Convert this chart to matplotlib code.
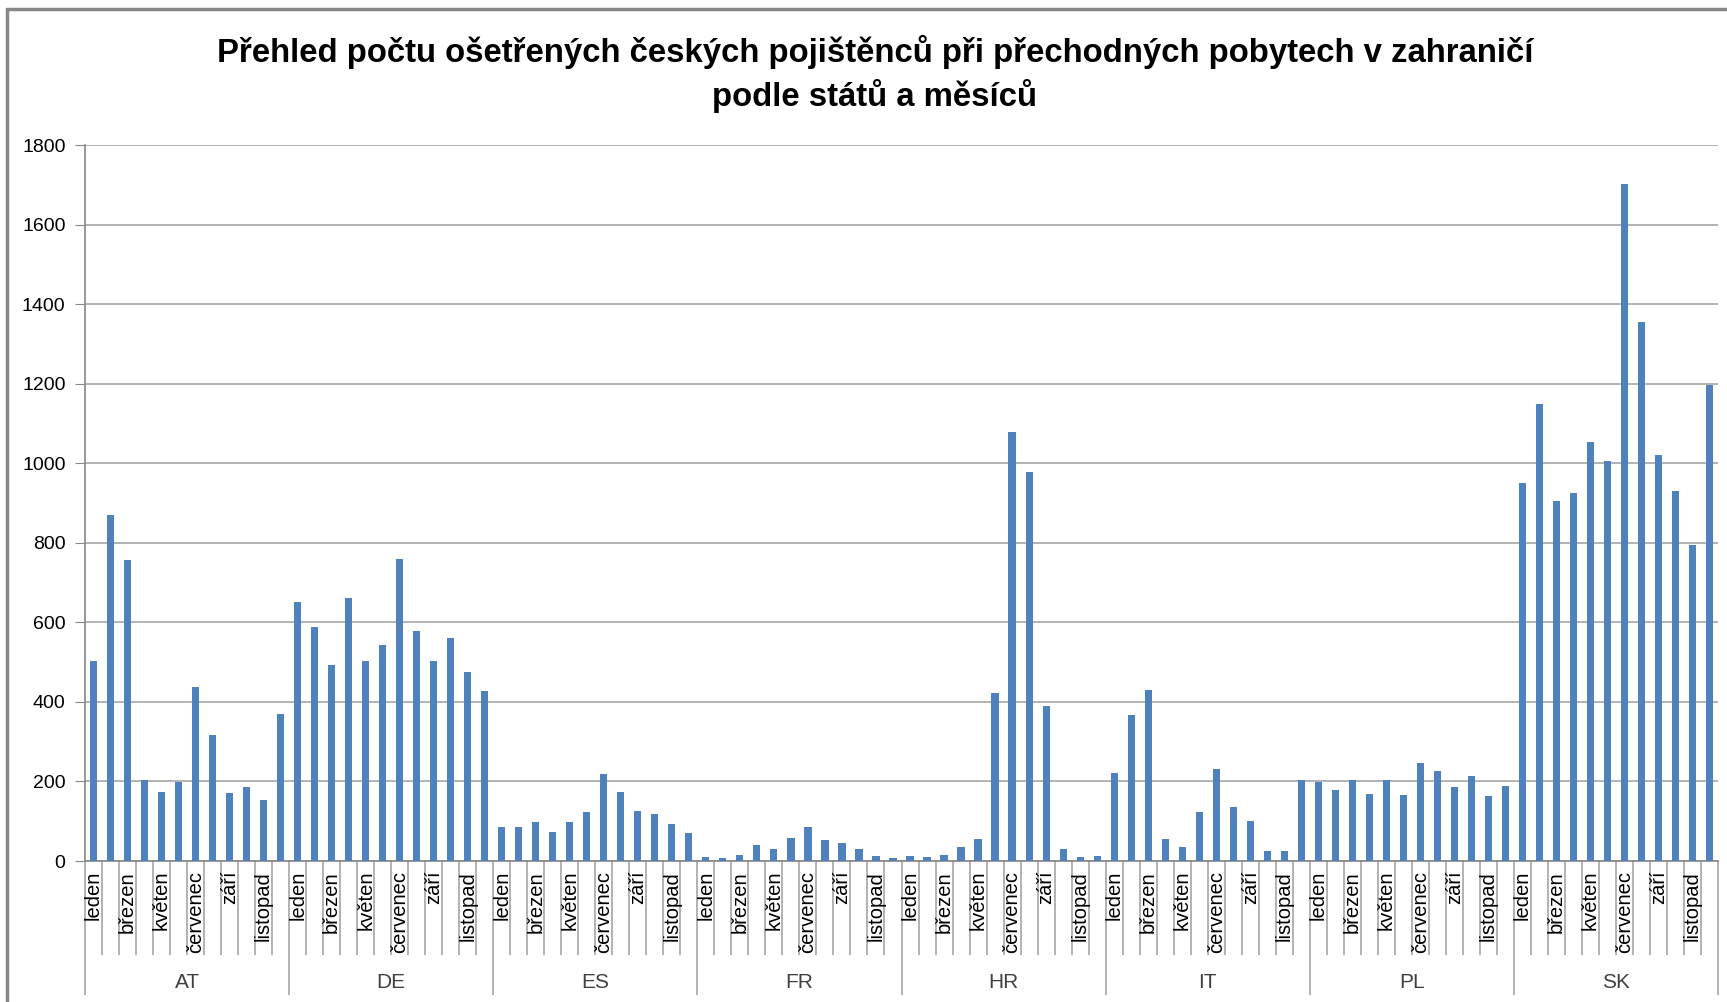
import matplotlib
matplotlib.use("Agg")
import matplotlib.pyplot as plt
import matplotlib.patches as patches
from matplotlib.transforms import blended_transform_factory
import numpy as np

# data
countries = ["AT", "DE", "ES", "FR", "HR", "IT", "PL", "SK"]
months = ["leden", "únor", "březen", "duben", "květen", "červen",
          "červenec", "srpen", "září", "říjen", "listopad", "prosinec"]

at_vals = [504, 869, 756, 203, 173, 198, 438, 318, 170, 185, 153, 369]
de_vals = [651, 588, 492, 661, 504, 542, 758, 578, 504, 561, 474, 428]
es_vals = [85, 85, 98, 73, 98, 124, 218, 173, 126, 119, 93, 70]
fr_vals = [10, 7, 15, 41, 31, 58, 85, 53, 44, 31, 12, 7]
hr_vals = [12, 10, 15, 34, 55, 423, 1079, 977, 389, 29, 10, 12]
it_vals = [222, 367, 431, 55, 34, 123, 232, 136, 100, 26, 26, 203]
pl_vals = [198, 178, 203, 168, 203, 165, 247, 227, 185, 213, 163, 188]
sk_vals = [951, 1150, 905, 926, 1053, 1006, 1702, 1354, 1021, 929, 795, 1196]

series = [at_vals, de_vals, es_vals, fr_vals, hr_vals, it_vals, pl_vals, sk_vals]
values = np.concatenate(series)

title = ("Přehled počtu ošetřených českých pojištěnců při přechodných pobytech v zahraničí\n"
         "podle států a měsíců")

W, H = 1727, 1002
plt.rcParams['font.family'] = ['Liberation Sans', 'DejaVu Sans']

fig = plt.figure(figsize=(W / 100, H / 100), dpi=100)
ax = fig.add_axes([85 / W, 1 - 861 / H, (1718 - 85) / W, (861 - 145) / H])

n_m = len(months)
x = np.arange(len(values))
ax.bar(x, values, width=0.42, color="#4F81BD", zorder=3)

ax.set_xlim(-0.5, len(values) - 0.5)
ax.set_ylim(0, 1800)
ax.set_yticks(np.arange(0, 1801, 200))
ax.yaxis.grid(True, color="#A6A6A6", lw=1.2, zorder=0)
ax.tick_params(axis='y', labelsize=14, length=7, color="#868686", pad=7)

for s in ["top", "right"]:
    ax.spines[s].set_visible(False)
for s in ["left", "bottom"]:
    ax.spines[s].set_color("#868686")
    ax.spines[s].set_linewidth(1.2)

# category axis: short ticks between months, long ones between countries
ax.set_xticks(np.arange(0, len(values) + 1, n_m) - 0.5)
ax.set_xticks(np.arange(0, len(values) + 1) - 0.5, minor=True)
ax.set_xticklabels([])
ax.tick_params(axis='x', which='major', length=134 * 0.72, color="#A6A6A6", width=1.2)
ax.tick_params(axis='x', which='minor', length=94 * 0.72, color="#A6A6A6", width=1.2)

trans = blended_transform_factory(ax.transData, fig.transFigure)
for ci, c in enumerate(countries):
    for mi, m in enumerate(months):
        if mi % 2 == 0:
            ax.text(ci * n_m + mi, 1 - 871 / H, m, rotation=90, ha="center", va="top",
                    fontsize=14.5, transform=trans)
    ax.text(ci * n_m + (n_m - 1) / 2, 1 - 982 / H, c, ha="center", va="center",
            fontsize=15, color="#404040", transform=trans)

fig.text(875 / W, 1 - 74 / H, title, ha="center", va="center", fontsize=23.7,
         fontweight="bold", linespacing=1.35)

# chart area border
fig.patches.append(patches.Rectangle((7 / W, -0.1), 1.2, 1 - 9 / H + 0.1,
                                     transform=fig.transFigure, fill=False,
                                     edgecolor="#868686", lw=2.5))

fig.savefig("out.png", dpi=100)
